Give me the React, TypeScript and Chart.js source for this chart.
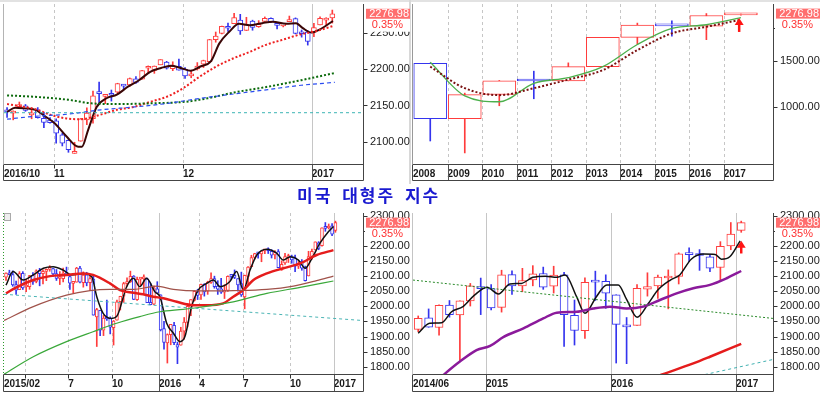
import React, { useEffect, useRef } from "react";
import { Chart, registerables } from "chart.js";

Chart.register(...registerables);
Chart.defaults.font.family = '"Liberation Sans", Arial, sans-serif';

type Pt = [number, number];

const TITLE = "미국 대형주 지수";
const LAST_VALUE = 2276.98;
const CHANGE_TEXT = "0.35%";
const UP = "#ff3c3c";
const DOWN = "#3434ee";

// ---------- Top-left: daily ----------
const TL_X_TICKS = [-0.5, 7.65, 28.65, 49.65];
const TL_X_LABELS = ["2016/10", "11", "12", "2017"];
const TL_Y_TICKS = [2100, 2150, 2200, 2250];
const TL_OPEN = [2142.5,2139.4,2148.5,2149.7,2136.9,2144.1,2132.2,2129.8,2128.7,2109.4,2101.6,2083.8,2100.6,2129.9,2131.6,2167.5,2162.7,2165.6,2168.3,2177.5,2178.6,2186.9,2186.4,2201.6,2198.6,2206.3,2210.2,2200.8,2204.3,2200.2,2191.1,2200.6,2207.3,2210.7,2241.1,2249.7,2258.8,2263.3,2268.4,2253.8,2266.8,2259.2,2266.5,2270.5,2262.9,2260.3,2266.2,2270.2,2249.5,2251.6,2251.6,2261.6,2268.2,2271.1];
const TL_HIGH = [2147.2,2142.6,2154.8,2151.4,2145.7,2147.1,2140.7,2133.3,2131.5,2111.8,2102.6,2099.1,2132.0,2146.9,2170.1,2182.3,2165.0,2171.4,2180.8,2179.2,2188.1,2189.9,2198.7,2204.8,2204.7,2213.4,2211.1,2210.5,2214.1,2202.6,2197.9,2209.4,2212.8,2241.6,2251.7,2259.8,2264.0,2277.5,2276.2,2272.1,2268.1,2267.5,2272.6,2271.2,2263.2,2263.8,2273.8,2271.3,2254.5,2253.6,2263.9,2272.8,2271.5,2282.1];
const TL_LOW = [2133.4,2130.1,2146.9,2141.9,2131.6,2132.5,2119.4,2125.5,2097.9,2094.0,2085.2,2083.8,2100.6,2123.6,2125.4,2151.2,2152.5,2156.1,2166.4,2172.2,2176.6,2180.4,2186.4,2194.5,2194.5,2206.3,2200.4,2198.2,2198.8,2187.4,2188.4,2199.0,2202.5,2208.9,2237.6,2249.2,2252.4,2263.3,2248.4,2253.8,2254.2,2258.2,2266.2,2265.2,2256.1,2258.8,2266.2,2249.1,2244.6,2233.6,2245.1,2261.6,2260.5,2264.1];
const TL_CLOSE = [2141.2,2141.2,2151.3,2143.2,2139.4,2133.0,2126.4,2126.2,2111.7,2097.9,2088.7,2085.2,2131.5,2139.6,2163.3,2166.4,2164.5,2164.2,2180.4,2176.9,2187.1,2181.9,2198.2,2202.9,2204.7,2213.4,2201.7,2204.7,2198.8,2191.1,2191.9,2204.7,2212.2,2241.4,2246.2,2259.5,2256.96,2271.7,2253.3,2262.0,2258.1,2262.5,2270.8,2265.2,2260.96,2263.8,2268.9,2249.9,2249.3,2238.8,2257.8,2270.8,2269.0,2276.98];
const TL_MA5: Pt[] = [[0,2141],[1.3,2147],[2.9,2146],[4.6,2144],[6.2,2135],[7.8,2125],[9.7,2107],[11.6,2093],[12.2,2093],[13.2,2116],[14.6,2148],[16.2,2160],[17.9,2165],[19.7,2176],[21.5,2185],[23.4,2197],[25.1,2202],[26.7,2205],[28.3,2202],[29.9,2198],[31.5,2204],[33.2,2211],[34.6,2236],[36.2,2252],[37.8,2263],[39.5,2261],[41.6,2264],[43.3,2266],[45.5,2263],[47.1,2264],[48.2,2257],[49.6,2251],[50.9,2255],[53.1,2267]];
const TL_MA20: Pt[] = [[0,2152],[2.1,2149],[4.6,2145],[7.1,2137],[9.7,2132],[11.9,2131],[15.1,2137],[17.9,2144],[20.6,2148],[23.3,2155],[26,2162],[28.7,2174],[31.4,2190],[34.1,2204],[36.8,2215],[39.5,2224],[42.2,2234],[44.9,2241],[47.6,2248],[50.4,2253],[53.1,2260]];
const TL_MA60: Pt[] = [[0,2164],[4.5,2162],[9.9,2158],[13.7,2153],[18,2152],[23.5,2153],[28.9,2155],[32.7,2160],[37,2168],[42.5,2176],[47.9,2185],[53.4,2195]];
const TL_MA120: Pt[] = [[0,2131],[4.5,2135],[9.9,2138],[15.3,2144],[20.8,2148],[26.2,2153],[31.6,2160],[37,2166],[42.5,2172],[47.9,2178],[53.4,2182]];
const TL_TREND: Pt[] = [[-0.5,2140],[58,2140]];

// ---------- Top-right: yearly (log) ----------
const TR_X_TICKS = [0,1,2,3,4,5,6,7,8,9];
const TR_X_LABELS = ["2008","2009","2010","2011","2012","2013","2014","2015","2016","2017"];
const TR_Y_TICKS = [1000, 1500, 2000];
const TR_OPEN = [1468,903,1116,1258,1258,1426,1846,2058,2038,2251];
const TR_HIGH = [1471,1130,1263,1371,1475,1849,2094,2135,2278,2282];
const TR_LOW = [741,667,1011,1075,1259,1426,1738,1867,1810,2245];
const TR_CLOSE = [903,1115,1258,1257.6,1426,1848,2059,2044,2239,2277];
const TR_GREEN: Pt[] = [[0.5,1483],[1.5,1102],[2.5,1047],[3.5,1232],[4.5,1295],[5.5,1426],[6.5,1734],[7.5,1999],[8.5,2064],[9.5,2196]];
const TR_BROWN: Pt[] = [[0.5,1426],[1.5,1180],[2.5,1110],[3.5,1180],[4.5,1273],[5.5,1384],[6.5,1650],[7.5,1913],[8.5,2027],[9.5,2158]];
const TR_ARROW = { x: 9.45, from: 1937, to: 2190 };

// ---------- Bottom-left: weekly ----------
const BL_X_TICKS = [-0.6, 5.5, 18.5, 31.5, 45.5, 57.5, 70.5, 84.5, 97.5];
const BL_X_LABELS = ["2015/02", "", "7", "10", "2016", "4", "7", "10", "2017"];
const BW_Y_TICKS = [1800, 1850, 1900, 1950, 2000, 2050, 2100, 2150, 2200, 2250, 2300];
const BL_OPEN = [2096.5,2109.8,2105.2,2072.3,2055.4,2109.3,2064.1,2064.9,2102.9,2082.2,2119.3,2108.4,2115.6,2122.3,2125.3,2108.6,2092.3,2091.3,2110.6,2098.6,2075.8,2080.0,2126.8,2078.2,2104.5,2078.6,2090.6,1965.2,1986.7,1921.1,1963.1,1960.8,1929.2,1954.3,2015.7,2033.5,2075.1,2080.8,2100.0,2022.1,2090.0,2091.0,2091.4,2013.4,2006.9,2057.8,2038.2,1926.1,1878.9,1906.3,1936.9,1873.3,1871.4,1917.8,1947.1,1996.1,2019.3,2048.6,2037.9,2073.2,2050.2,2078.8,2091.7,2067.2,2057.6,2046.5,2052.6,2100.0,2100.8,2091.8,2075.6,2030.8,2099.3,2131.7,2162.0,2175.1,2173.2,2183.7,2186.1,2182.2,2170.2,2181.6,2120.9,2144.0,2160.9,2164.3,2160.4,2132.6,2148.5,2129.8,2100.6,2165.6,2186.4,2210.2,2200.6,2258.8,2259.2,2266.2,2251.6];
const BL_HIGH = [2111.0,2119.6,2117.5,2083.5,2114.9,2114.9,2089.0,2102.6,2111.9,2120.9,2125.9,2120.5,2123.9,2134.7,2126.2,2121.9,2115.0,2126.6,2129.9,2102.4,2078.1,2129.2,2132.8,2114.2,2112.7,2105.4,2102.7,1993.5,1986.7,1970.0,2020.9,1965.2,1953.1,2020.9,2033.5,2079.7,2094.3,2116.5,2101.7,2097.1,2095.6,2104.3,2093.8,2076.7,2067.7,2081.6,2038.2,1950.3,1908.9,1940.2,1947.2,1881.6,1930.7,1963.0,2009.1,2022.4,2052.4,2056.6,2074.0,2075.1,2083.2,2111.1,2099.9,2084.9,2092.8,2071.9,2101.2,2103.5,2120.6,2091.8,2113.3,2103.5,2131.7,2169.1,2175.6,2177.1,2182.9,2188.5,2193.8,2187.7,2184.9,2187.9,2150.8,2175.3,2172.7,2169.6,2169.8,2148.4,2154.8,2133.3,2182.3,2189.9,2213.4,2214.1,2259.8,2277.5,2272.6,2273.8,2282.1];
const BL_LOW = [2085.4,2103.8,2066.4,2039.7,2055.4,2055.8,2048.4,2056.3,2072.9,2077.8,2067.9,2074.1,2085.0,2116.1,2099.2,2085.7,2072.1,2080.7,2101.5,2056.3,2044.0,2080.0,2077.8,2063.5,2067.9,2052.1,1970.9,1867.0,1903.1,1903.1,1953.0,1908.8,1871.9,1954.3,1987.8,2013.1,2066.6,2079.0,2022.0,2019.4,2070.3,2042.4,2012.4,2005.1,2005.9,2043.6,1918.5,1857.8,1812.3,1872.7,1872.7,1810.1,1871.4,1891.0,1931.8,1969.3,2017.0,2022.5,2022.5,2033.8,2039.7,2075.5,2060.0,2039.5,2043.1,2025.9,2049.1,2088.5,2091.6,2050.4,2032.9,1991.7,2074.0,2131.7,2156.5,2159.1,2147.6,2174.1,2174.9,2160.0,2157.1,2127.8,2119.1,2139.1,2145.2,2142.6,2114.7,2125.0,2119.4,2083.8,2100.6,2156.1,2186.4,2187.4,2199.0,2248.4,2256.1,2233.6,2245.1];
const BL_CLOSE = [2110.3,2104.5,2071.3,2053.4,2108.1,2061.0,2067.0,2102.1,2081.2,2117.7,2108.3,2116.1,2122.7,2126.1,2107.4,2092.8,2094.1,2110.0,2101.5,2076.8,2076.6,2126.6,2079.7,2103.8,2077.6,2091.5,1970.9,1988.9,1921.2,1961.1,1958.0,1931.3,1951.4,2014.9,2033.1,2075.2,2079.4,2099.2,2023.0,2089.2,2090.1,2091.7,2012.4,2005.6,2061.0,2043.9,1922.0,1880.3,1906.9,1940.2,1880.1,1864.8,1917.8,1948.1,2000.0,2022.2,2049.6,2035.9,2072.8,2047.6,2080.7,2091.6,2065.3,2057.1,2046.6,2052.3,2099.1,2099.1,2096.1,2071.2,2037.4,2103.0,2129.9,2161.7,2175.0,2173.6,2182.9,2184.1,2183.9,2169.0,2180.0,2127.8,2139.2,2164.7,2168.3,2153.7,2133.0,2141.2,2126.4,2085.2,2164.5,2181.9,2213.4,2192.0,2259.5,2258.1,2263.8,2238.8,2277.0];
const BL_MA5: Pt[] = [[0,2070],[2.1,2115],[5.1,2087],[8.1,2104],[11.1,2126],[14,2131],[17,2120],[19.5,2104],[23,2109],[25.5,2098],[27,2032],[28.9,1977],[31.4,1960],[32.9,1966],[35.9,2065],[37.9,2093],[39.8,2065],[41.8,2093],[44.3,2048],[45.8,2032],[47.8,1944],[49.8,1911],[51.75,1883],[53.2,1899],[55.2,1999],[57.2,2054],[59.7,2076],[61.7,2087],[63.7,2065],[66.6,2082],[68.6,2115],[70.6,2054],[72.6,2120],[74.6,2170],[77.6,2189],[80.5,2176],[82.5,2153],[84.5,2164],[87,2153],[89,2126],[91,2159],[93.4,2209],[95.9,2247],[97.4,2264]];
const BL_MA20: Pt[] = [[0,2043],[3.1,2063],[8.1,2087],[13.1,2100],[18,2104],[23,2109],[25.9,2104],[30.9,2076],[33.9,2054],[37.9,2045],[40.8,2040],[43.8,2032],[46.8,2027],[50.8,2015],[55.7,2004],[59.7,2004],[64.6,2010],[67.6,2032],[70.6,2054],[73.6,2087],[77.6,2109],[82.5,2126],[87.5,2142],[92.4,2170],[97.4,2186]];
const BL_MA60: Pt[] = [[-0.6,1953],[8.1,1999],[18,2037],[25,2052],[30.9,2056],[37.9,2056],[44.8,2067],[49.8,2056],[57.7,2051],[67.6,2052],[77.6,2056],[85.5,2067],[92.4,2085],[97.4,2100]];
const BL_MA120: Pt[] = [[-0.6,1775],[8.1,1833],[18,1883],[25.9,1916],[32.9,1944],[39.8,1966],[45.8,1982],[52.7,1990],[57.7,1997],[67.6,2015],[77.6,2043],[87.5,2063],[97.4,2084]];
const BL_TREND: Pt[] = [[-0.6,2040],[106.2,1953]];

// ---------- Bottom-right: monthly ----------
const BR_X_TICKS = [-0.5, 6.5, 18.5, 30.5];
const BR_X_LABELS = ["2014/06", "2015", "2016", "2017"];
const BR_OPEN = [1923.9,1962.3,1929.8,2004.1,1971.4,2018.2,2065.8,2058.9,1996.7,2105.2,2067.6,2087.4,2108.6,2067.0,2104.5,1970.1,1919.7,2080.8,2082.9,2038.2,1936.9,1937.1,2056.6,2067.2,2093.9,2099.3,2173.2,2171.3,2164.3,2128.7,2200.2,2251.6];
const BR_HIGH = [1968.2,1991.4,2005.0,2019.3,2018.2,2075.8,2093.6,2072.4,2119.6,2117.5,2125.9,2134.7,2129.9,2132.8,2112.7,2020.9,2094.3,2116.5,2104.3,2038.2,1963.0,2072.2,2111.1,2103.5,2120.6,2177.1,2193.8,2187.9,2169.6,2214.1,2277.5,2282.1];
const BR_LOW = [1916.0,1930.7,1904.8,1964.0,1820.7,2001.0,1972.6,1988.1,1980.9,2039.7,2048.4,2067.9,2056.3,2044.0,1867.0,1871.9,1893.7,2019.4,1993.3,1812.3,1810.1,1937.1,2033.8,2025.9,1991.7,2074.0,2147.6,2119.1,2114.7,2083.8,2187.4,2245.1];
const BR_CLOSE = [1960.2,1930.7,2003.4,1972.3,2018.1,2067.6,2058.9,1995.0,2104.5,2067.9,2085.5,2107.4,2063.1,2103.8,1972.2,1920.0,2079.4,2080.4,2043.9,1940.2,1932.2,2059.7,2065.3,2097.0,2098.9,2173.6,2171.0,2168.3,2126.2,2198.8,2238.8,2277.0];
const BR_MA3: Pt[] = [[0,1911],[1.1,1944],[2.25,1946],[3.2,1982],[4.3,1999],[5.4,2037],[6.6,2063],[7.7,2041],[8.8,2074],[9.9,2076],[11,2096],[12.2,2100],[13.3,2096],[14.1,2104],[15.2,2032],[16,1977],[17.1,2032],[18.1,2071],[19.2,2071],[20,2023],[21,1964],[22.1,2010],[23,2054],[24.2,2087],[25.1,2104],[26.2,2156],[27.4,2173],[28.5,2172],[29.1,2156],[29.9,2164],[30.9,2217]];
const BR_MA12: Pt[] = [[2,1760],[2.6,1778],[4,1817],[5.6,1855],[6.9,1869],[8.2,1899],[10.1,1927],[12,1960],[13.3,1979],[15.2,1982],[16.8,1993],[18.4,1999],[20,1993],[21.6,1999],[23.2,2021],[24.8,2043],[26.4,2060],[28,2071],[29.6,2093],[31,2117]];
const BR_MA60: Pt[] = [[23.2,1772],[26.4,1811],[28,1833],[31,1876]];
const BR_TREND_A: Pt[] = [[-0.5,2087],[34.05,1960]];
const BR_TREND_B: Pt[] = [[27.5,1774],[34.05,1824]];
const BR_ARROW = { x: 31, from: 2175, to: 2217 };

// ---------- helpers ----------
function candleSets(o: number[], h: number[], l: number[], c: number[], off: number, bodyW: number): any[] {
  const col = o.map((v, i) => (c[i] >= v ? UP : DOWN));
  return [
    {
      type: "bar",
      data: o.map((_, i) => ({ x: i + off, y: [l[i], h[i]] })),
      backgroundColor: col,
      borderWidth: 0,
      barThickness: 1,
      grouped: false,
      order: 3,
    },
    {
      type: "bar",
      data: o.map((v, i) => ({ x: i + off, y: [v, c[i]] })),
      backgroundColor: "#ffffff",
      borderColor: col,
      borderWidth: 1,
      borderSkipped: false,
      barThickness: bodyW,
      minBarLength: 2,
      grouped: false,
      order: 2,
    },
  ];
}

function lineSet(pts: Pt[], color: string, width: number, dash: number[] = []): any {
  return {
    type: "line",
    data: pts.map(([x, y]) => ({ x, y })),
    borderColor: color,
    borderWidth: width,
    borderDash: dash,
    pointRadius: 0,
    fill: false,
    cubicInterpolationMode: "monotone",
    order: 1,
  };
}

function seg(ctx: CanvasRenderingContext2D, x1: number, y1: number, x2: number, y2: number) {
  ctx.beginPath();
  ctx.moveTo(x1, y1);
  ctx.lineTo(x2, y2);
  ctx.stroke();
}

interface Spec {
  key: string;
  left: number; top: number; width: number; height: number;
  padL: number; padT: number; band: number;
  xMin: number; xMax: number; xTicks: number[]; xLabels: string[]; xStyles: string[];
  yType: string; yMin: number; yMax: number; yTicks: number[];
  datasets: any[];
  leftColor: string; leftDash: number[];
  arrow: { x: number; from: number; to: number } | null;
}

function makeConfig(s: Spec): any {
  const decor = {
    id: "decor",
    beforeDatasetsDraw(chart: any) {
      const { ctx, chartArea: a } = chart;
      const x = chart.scales.x;
      ctx.save();
      ctx.lineWidth = 1;
      ctx.strokeStyle = "#c6c6c6";
      s.xTicks.forEach((v, i) => {
        const st = s.xStyles[i];
        if (st === "edge") return;
        const px = Math.round(x.getPixelForValue(v)) + 0.5;
        ctx.setLineDash(st === "solid" ? [] : [3, 3]);
        seg(ctx, px, a.top, px, a.bottom);
      });
      ctx.restore();
    },
    afterDraw(chart: any) {
      const { ctx, chartArea: a } = chart;
      const x = chart.scales.x;
      const y = chart.scales.y;
      const L = Math.round(a.left) - 0.5;
      const R = Math.round(a.right) + 0.5;
      const B = Math.round(a.bottom) + 0.5;
      const BB = Math.round(a.bottom + s.band) + 0.5;
      ctx.save();
      ctx.lineWidth = 1;
      if (s.arrow) {
        const ax = x.getPixelForValue(s.arrow.x);
        const y0 = y.getPixelForValue(s.arrow.from);
        const y1 = y.getPixelForValue(s.arrow.to);
        ctx.strokeStyle = "#ff1414";
        ctx.fillStyle = "#ff1414";
        ctx.lineWidth = 2.5;
        seg(ctx, ax, y0, ax, y1 + 5);
        ctx.beginPath();
        ctx.moveTo(ax, y1);
        ctx.lineTo(ax - 4.5, y1 + 7);
        ctx.lineTo(ax + 4.5, y1 + 7);
        ctx.closePath();
        ctx.fill();
        ctx.lineWidth = 1;
      }
      ctx.strokeStyle = "#333";
      s.yTicks.forEach((v) => {
        const py = Math.round(y.getPixelForValue(v)) + 0.5;
        seg(ctx, R, py, R + 4, py);
      });
      s.xTicks.forEach((v, i) => {
        const st = s.xStyles[i];
        if (st === "edge") return;
        const px = Math.round(x.getPixelForValue(v)) + 0.5;
        ctx.strokeStyle = st === "dash" ? "#333" : "#555";
        seg(ctx, px, B, px, st === "dash" ? B + 4 : BB);
      });
      ctx.strokeStyle = "#444";
      seg(ctx, L, B, R, B);
      seg(ctx, L, BB, R, BB);
      seg(ctx, R, a.top, R, BB);
      seg(ctx, L, B, L, BB);
      ctx.strokeStyle = s.leftColor;
      ctx.setLineDash(s.leftDash);
      seg(ctx, L, a.top, L, B);
      ctx.setLineDash([]);
      const vy = y.getPixelForValue(LAST_VALUE);
      ctx.fillStyle = "#ffffff";
      ctx.fillRect(a.right + 2, vy + 5, 46, 13);
      ctx.fillStyle = "#ff6e6e";
      ctx.fillRect(a.right + 3, vy - 5, 44, 10);
      ctx.font = '11px "Liberation Sans", Arial, sans-serif';
      ctx.textBaseline = "middle";
      ctx.textAlign = "right";
      ctx.fillStyle = "#ffffff";
      ctx.fillText(LAST_VALUE.toFixed(2), a.right + 46, vy + 0.5);
      ctx.fillStyle = "#ff3030";
      ctx.fillText(CHANGE_TEXT, a.right + 40, vy + 11.5);
      ctx.restore();
    },
  };

  return {
    type: "bar",
    data: { datasets: s.datasets },
    plugins: [decor],
    options: {
      animation: false,
      responsive: false,
      devicePixelRatio: 1,
      layout: { padding: { left: s.padL, top: s.padT, right: 0, bottom: 0 } },
      plugins: { legend: { display: false }, tooltip: { enabled: false } },
      scales: {
        x: {
          type: "linear",
          min: s.xMin,
          max: s.xMax,
          offset: false,
          bounds: "data",
          grid: { display: false, drawTicks: false },
          border: { display: false },
          afterBuildTicks: (sc: any) => {
            sc.ticks = s.xTicks.map((v) => ({ value: v }));
          },
          afterFit: (sc: any) => {
            sc.height = 20;
            sc.paddingLeft = 0;
            sc.paddingRight = 0;
          },
          ticks: {
            autoSkip: false,
            maxRotation: 0,
            minRotation: 0,
            align: "start",
            padding: 4,
            color: "#1a1a1a",
            font: { size: 10, weight: "bold" },
            callback: (_v: any, i: number) => s.xLabels[i],
          },
        },
        y: {
          type: s.yType,
          position: "right",
          min: s.yMin,
          max: s.yMax,
          bounds: "data",
          beginAtZero: false,
          grid: { display: false, drawTicks: false },
          border: { display: false },
          afterBuildTicks: (sc: any) => {
            sc.ticks = s.yTicks.map((v) => ({ value: v }));
          },
          afterFit: (sc: any) => {
            sc.width = 47;
            sc.paddingTop = 0;
            sc.paddingBottom = 0;
          },
          ticks: {
            autoSkip: false,
            padding: 7,
            color: "#1a1a1a",
            font: { size: 11 },
            callback: (v: any) => Number(v).toFixed(2),
          },
        },
      },
    },
  };
}

const PANELS: Spec[] = [
  {
    key: "tl", left: 0, top: 0, width: 410, height: 184, padL: 4, padT: 4, band: 16,
    xMin: -0.5, xMax: 58, xTicks: TL_X_TICKS, xLabels: TL_X_LABELS, xStyles: ["edge", "dash", "dash", "solid"],
    yType: "linear", yMin: 2069, yMax: 2290.5, yTicks: TL_Y_TICKS,
    datasets: [
      ...candleSets(TL_OPEN, TL_HIGH, TL_LOW, TL_CLOSE, 0, 5),
      lineSet(TL_TREND, "#3cb4b4", 1, [3, 3]),
      lineSet(TL_MA120, "#2a4cf0", 1.2, [4, 3]),
      lineSet(TL_MA60, "#0b6a0b", 2, [2, 2]),
      lineSet(TL_MA20, "#ee2020", 2, [2, 2]),
      lineSet(TL_MA5, "#3a0606", 2),
    ],
    leftColor: "#b4b4b4", leftDash: [], arrow: null,
  },
  {
    key: "tr", left: 410, top: 0, width: 410, height: 184, padL: 3, padT: 4, band: 16,
    xMin: 0, xMax: 10.43, xTicks: TR_X_TICKS, xLabels: TR_X_LABELS,
    xStyles: ["edge", "sep", "sep", "sep", "sep", "sep", "sep", "sep", "sep", "sep"],
    yType: "logarithmic", yMin: 605, yMax: 2478, yTicks: TR_Y_TICKS,
    datasets: [
      ...candleSets(TR_OPEN, TR_HIGH, TR_LOW, TR_CLOSE, 0.5, 33),
      lineSet(TR_BROWN, "#7a1010", 2, [2, 2]),
      lineSet(TR_GREEN, "#4cb04c", 1.3),
    ],
    leftColor: "#999999", leftDash: [], arrow: TR_ARROW,
  },
  {
    key: "bl", left: 0, top: 208, width: 410, height: 186, padL: 4, padT: 5, band: 17,
    xMin: -0.6, xMax: 106.2, xTicks: BL_X_TICKS, xLabels: BL_X_LABELS,
    xStyles: ["edge", "dash", "dash", "dash", "solid", "dash", "dash", "dash", "solid"],
    yType: "linear", yMin: 1776, yMax: 2309, yTicks: BW_Y_TICKS,
    datasets: [
      ...candleSets(BL_OPEN, BL_HIGH, BL_LOW, BL_CLOSE, 0, 3),
      lineSet(BL_TREND, "#4ab4b4", 1, [3, 3]),
      lineSet(BL_MA120, "#3aa83a", 1.2),
      lineSet(BL_MA60, "#a0524a", 1.2),
      lineSet(BL_MA20, "#e51c1c", 2.5),
      lineSet(BL_MA5, "#111111", 1.5),
    ],
    leftColor: "#2a9a2a", leftDash: [1, 2], arrow: null,
  },
  {
    key: "br", left: 410, top: 208, width: 410, height: 186, padL: 3, padT: 5, band: 17,
    xMin: -0.5, xMax: 34.05, xTicks: BR_X_TICKS, xLabels: BR_X_LABELS,
    xStyles: ["edge", "solid", "solid", "solid"],
    yType: "linear", yMin: 1776, yMax: 2309, yTicks: BW_Y_TICKS,
    datasets: [
      ...candleSets(BR_OPEN, BR_HIGH, BR_LOW, BR_CLOSE, 0, 8),
      lineSet(BR_TREND_A, "#2a8a2a", 1, [2, 2]),
      lineSet(BR_TREND_B, "#40b0b0", 1, [3, 3]),
      lineSet(BR_MA60, "#e51c1c", 2.5),
      lineSet(BR_MA12, "#8b1a9b", 2.5),
      lineSet(BR_MA3, "#111111", 1.5),
    ],
    leftColor: "#c4c4c4", leftDash: [], arrow: BR_ARROW,
  },
];

function ChartPanel({ spec }: { spec: Spec }) {
  const ref = useRef<HTMLCanvasElement | null>(null);
  useEffect(() => {
    if (!ref.current) return;
    const chart = new Chart(ref.current, makeConfig(spec));
    return () => chart.destroy();
  }, [spec]);
  return (
    <canvas
      ref={ref}
      width={spec.width}
      height={spec.height}
      style={{ position: "absolute", left: spec.left, top: spec.top, width: spec.width, height: spec.height }}
    />
  );
}

export default function App() {
  return (
    <div style={{ position: "absolute", left: 0, top: 0, width: 820, height: 394, background: "#ffffff", overflow: "hidden" }}>
      <div style={{ position: "absolute", left: 0, top: 0, width: 820, height: 2, background: "#e2e2e2" }} />
      <div style={{ position: "absolute", left: 409, top: 0, width: 2, height: 184, background: "#d8d8d8" }} />
      {PANELS.map((p) => (
        <ChartPanel key={p.key} spec={p} />
      ))}
      <div style={{ position: "absolute", left: 4, top: 213, width: 5, height: 6, border: "1px solid #aaa", background: "#eee" }} />
      <div
        style={{
          position: "absolute",
          left: 297,
          top: 185,
          fontFamily: '"Noto Sans CJK KR", sans-serif',
          fontWeight: 700,
          fontSize: 17,
          lineHeight: "20px",
          letterSpacing: 2,
          wordSpacing: 4,
          color: "#1a1ad0",
          whiteSpace: "nowrap",
        }}
      >
        {TITLE}
      </div>
    </div>
  );
}
